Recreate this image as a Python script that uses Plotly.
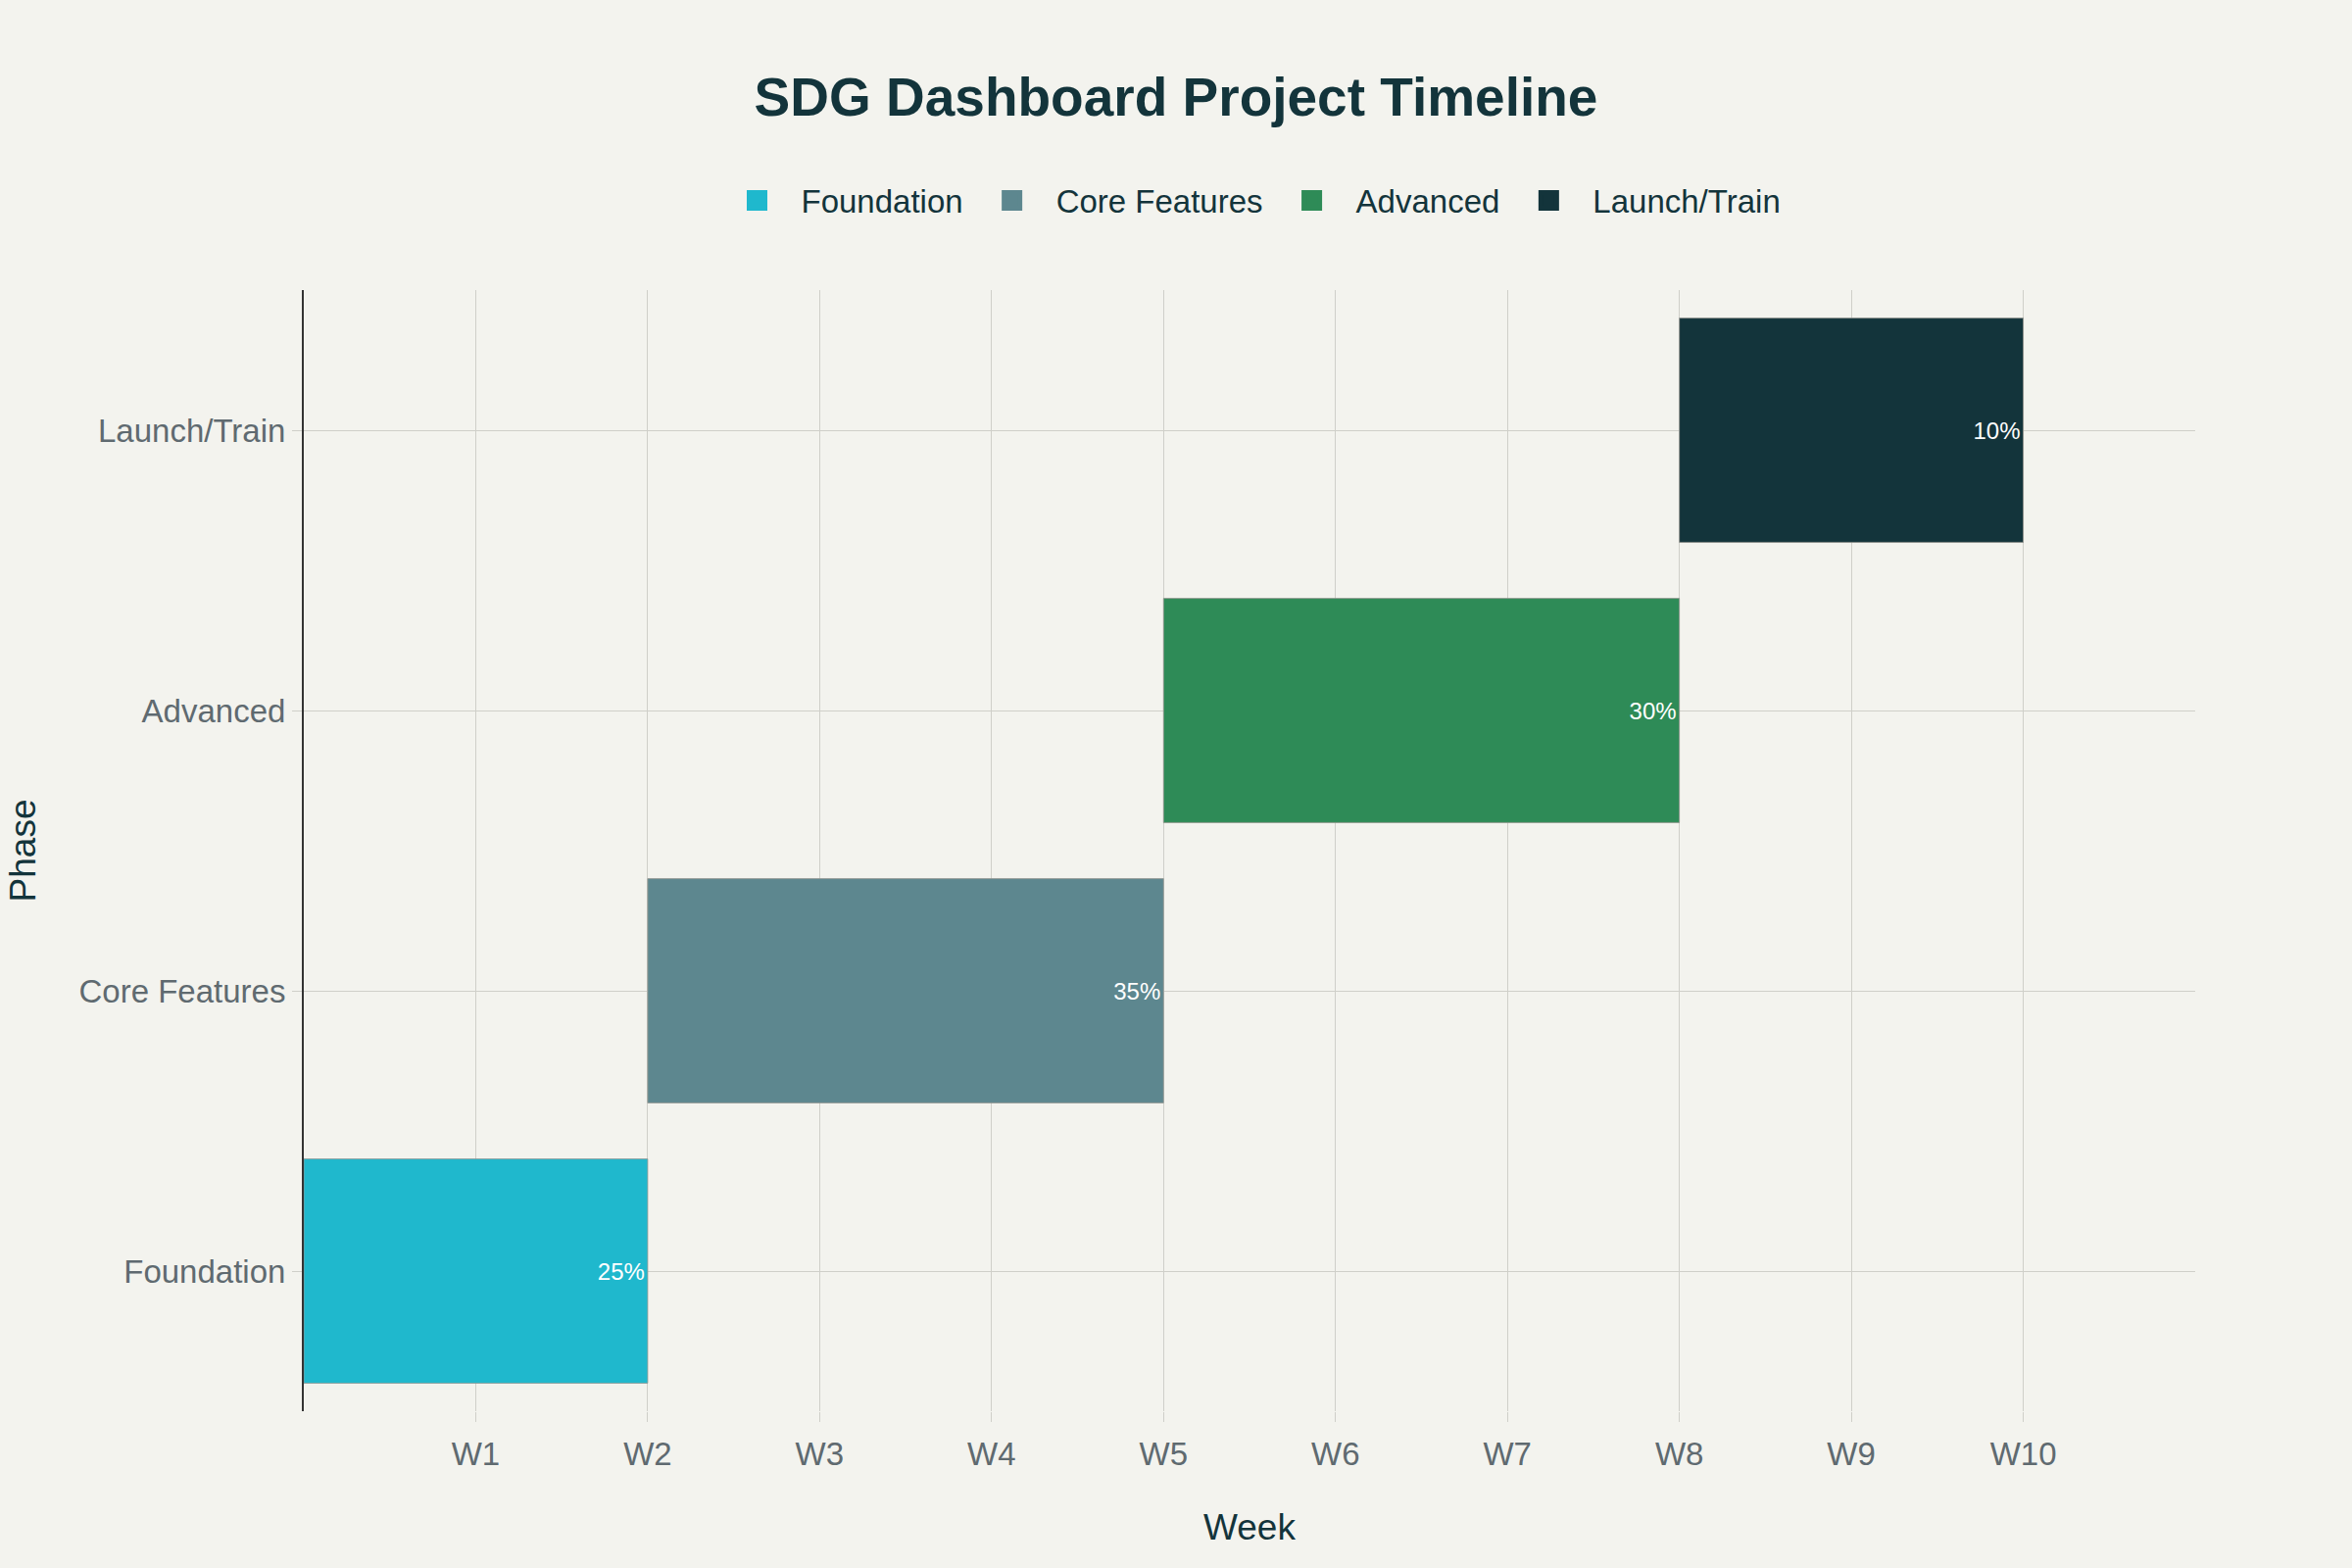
import plotly.graph_objects as go

phases = ["Foundation", "Core Features", "Advanced", "Launch/Train"]
start_weeks = [0, 2, 5, 8]
durations = [2, 3, 3, 2]
share_labels = ["25%", "35%", "30%", "10%"]
colors = ["#1FB8CD", "#5D878F", "#2E8B57", "#13343B"]
week_ticks = [1, 2, 3, 4, 5, 6, 7, 8, 9, 10]
week_labels = ["W1", "W2", "W3", "W4", "W5", "W6", "W7", "W8", "W9", "W10"]

FONT = "Liberation Sans, Arial, sans-serif"

fig = go.Figure()
for ph, st, du, lab, col in zip(phases, start_weeks, durations, share_labels, colors):
    fig.add_trace(go.Bar(
        y=[ph], x=[du], base=[st], orientation="h", name=ph,
        text=[lab], textposition="inside", insidetextanchor="end",
        textfont=dict(color="white", size=24, family=FONT),
        marker=dict(color=col, line=dict(color="rgba(150,150,145,0.8)", width=1)),
        width=0.8, showlegend=False, legendgroup=ph,
    ))
# legend entries (larger square swatches)
for ph, col in zip(phases, colors):
    fig.add_trace(go.Scatter(
        x=[None], y=[None], mode="markers", name=ph, legendgroup=ph,
        marker=dict(symbol="square", size=16, color=col,
                    line=dict(color=col, width=8)),
        showlegend=True, hoverinfo="skip",
    ))

fig.update_layout(
    width=2400, height=1600,
    paper_bgcolor="#F3F3EE", plot_bgcolor="#F3F3EE",
    barmode="overlay",
    font=dict(family=FONT, color="#13343B"),
    title=dict(text="<b>SDG Dashboard Project Timeline</b>", x=0.5, xref="container",
               xanchor="center", y=0.938, yanchor="middle",
               font=dict(size=55, color="#13343B", family=FONT)),
    legend=dict(orientation="h", x=0.5, xanchor="center", y=1.08, yanchor="middle",
                font=dict(size=33, color="#13343B", family=FONT),
                bgcolor="rgba(0,0,0,0)", itemwidth=80, itemsizing="trace"),
    margin=dict(l=310, r=160, t=296, b=160),
    uniformtext=dict(minsize=10, mode="show"),
)

fig.update_xaxes(
    range=[0, 11], tickvals=week_ticks, ticktext=week_labels,
    showgrid=True, gridcolor="#CFCFC9", gridwidth=1, zeroline=False,
    showline=False, ticks="outside", ticklen=10, tickcolor="#CFCFC9",
    ticklabelstandoff=4,
    tickfont=dict(size=33, color="#5F6A70", family=FONT),
    title=dict(text="Week", font=dict(size=37, color="#13343B", family=FONT), standoff=44),
    automargin=False,
)
fig.update_yaxes(
    categoryorder="array", categoryarray=phases, range=[-0.5, 3.5],
    showgrid=True, gridcolor="#CFCFC9", gridwidth=1, zeroline=False,
    showline=True, linecolor="#333333", linewidth=2,
    ticks="outside", ticklen=10, tickcolor="#CFCFC9",
    tickfont=dict(size=33, color="#5F6A70", family=FONT),
    title=dict(text="Phase", font=dict(size=37, color="#13343B", family=FONT), standoff=33),
    automargin=False,
)

fig.write_html("out.html")
